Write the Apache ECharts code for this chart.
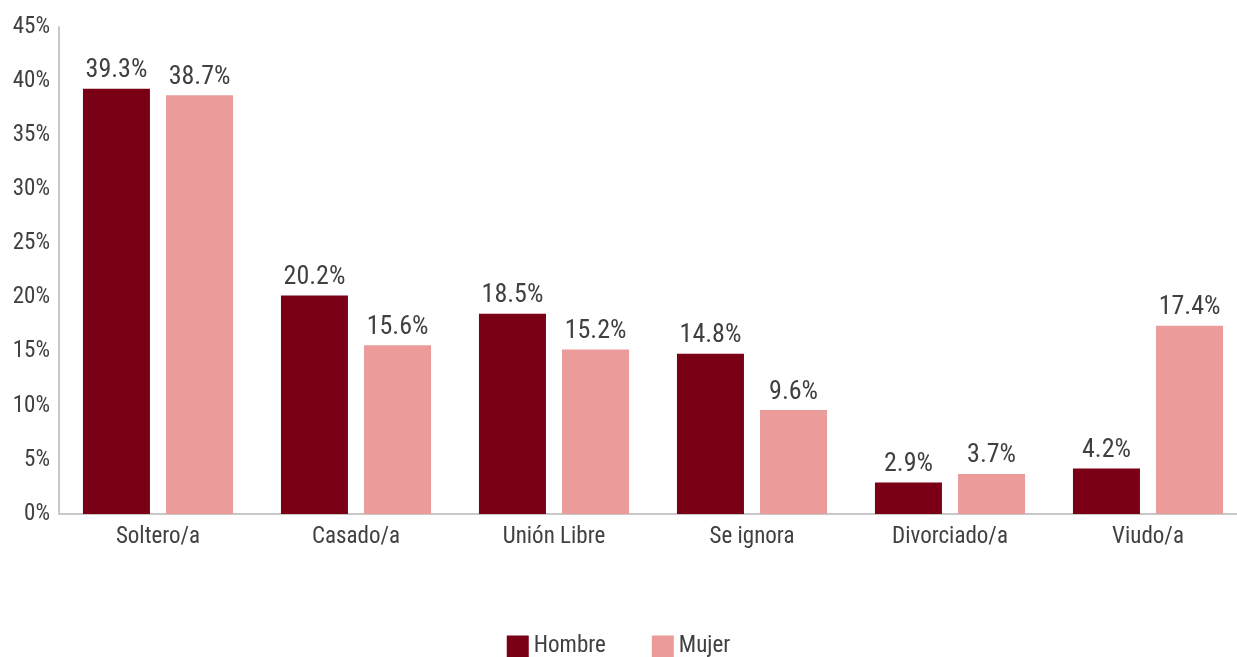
<!DOCTYPE html>
<html>
<head>
<meta charset="utf-8">
<script src="https://cdn.jsdelivr.net/npm/echarts@6/dist/echarts.min.js"></script>
<style>
  html, body { margin: 0; padding: 0; background: #fff; }
  #chart { width: 1237px; height: 657px; }
</style>
</head>
<body>
<div id="chart"></div>
<script>
const categories = ["Soltero/a", "Casado/a", "Unión Libre", "Se ignora", "Divorciado/a", "Viudo/a"];
const hombre = [39.3, 20.2, 18.5, 14.8, 2.9, 4.2];
const mujer = [38.7, 15.6, 15.2, 9.6, 3.7, 17.4];

const fontFamily = '"Roboto Condensed", "Liberation Sans Narrow", "DejaVu Sans Condensed", Roboto, sans-serif';
const textColor = "#404040";

const barLabel = {
  show: true,
  position: "top",
  distance: 5,
  color: textColor,
  fontFamily: fontFamily,
  fontSize: 26,
  formatter: (p) => p.value.toFixed(1) + "%",
};

const chart = echarts.init(document.getElementById("chart"));

chart.setOption({
  animation: false,
  textStyle: { fontFamily: fontFamily },
  grid: {
    left: 59,
    top: 27,
    width: 1188,
    height: 487,
    outerBoundsMode: "none",
  },
  legend: {
    top: 630,
    left: "center",
    itemWidth: 22,
    itemHeight: 22,
    itemGap: 46,
    icon: "rect",
    textStyle: {
      color: textColor,
      fontFamily: fontFamily,
      fontSize: 23,
    },
    data: ["Hombre", "Mujer"],
  },
  xAxis: {
    type: "category",
    data: categories,
    axisTick: { show: false },
    axisLine: { lineStyle: { color: "#c8c8c8", width: 2 } },
    axisLabel: {
      color: textColor,
      fontFamily: fontFamily,
      fontSize: 23,
      margin: 12,
    },
  },
  yAxis: {
    type: "value",
    min: 0,
    max: 45,
    interval: 5,
    axisLine: { show: true, lineStyle: { color: "#c8c8c8", width: 2 } },
    axisTick: { show: false },
    splitLine: { show: false },
    axisLabel: {
      color: textColor,
      fontFamily: fontFamily,
      fontSize: 23,
      margin: 9,
      formatter: "{value}%",
    },
  },
  series: [
    {
      name: "Hombre",
      type: "bar",
      data: hombre,
      barWidth: 67,
      barGap: "24%",
      itemStyle: { color: "#7a0016" },
      label: barLabel,
    },
    {
      name: "Mujer",
      type: "bar",
      data: mujer,
      barWidth: 67,
      itemStyle: { color: "#ec9b9b" },
      label: barLabel,
    },
  ],
});
</script>
</body>
</html>
